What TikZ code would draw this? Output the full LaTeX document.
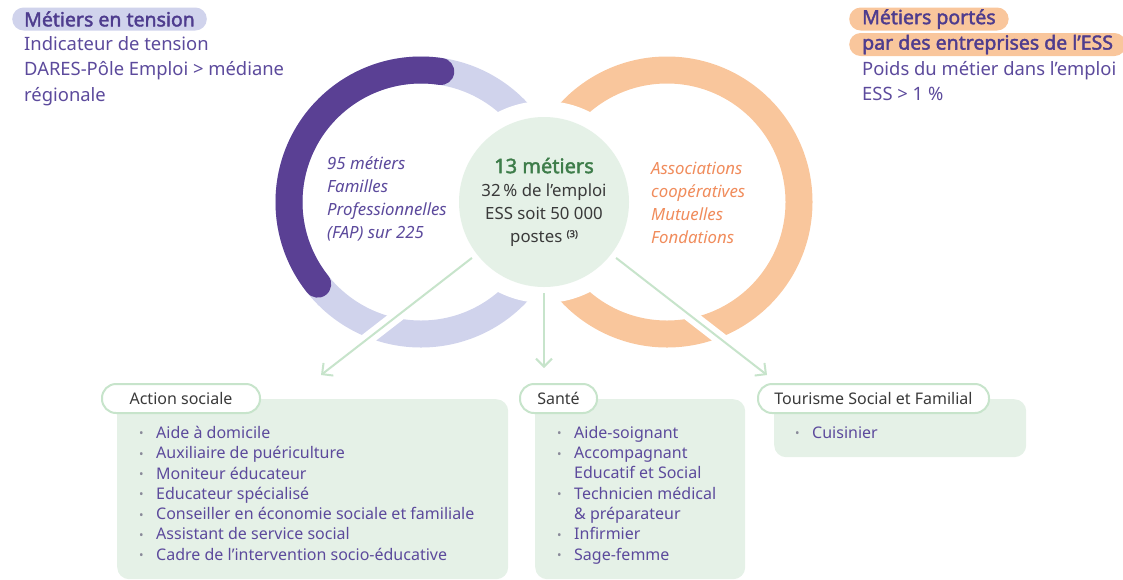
\documentclass[tikz,border=0pt]{standalone}
\usepackage{fontspec}
\setmainfont{Noto Sans}[AutoFakeBold=2]
\usetikzlibrary{arrows.meta}

\definecolor{lavring}{HTML}{D0D3EC}
\definecolor{tensionpurple}{HTML}{5A4094}
\definecolor{titlepurple}{HTML}{4E3C8E}
\definecolor{txtpurple}{HTML}{5C4A9C}
\definecolor{essorange}{HTML}{F9C69C}
\definecolor{orangetxt}{HTML}{F08C5C}
\definecolor{essgreen}{HTML}{E5F1E7}
\definecolor{linegreen}{HTML}{C7E4CB}
\definecolor{titlegreen}{HTML}{3E7D4A}
\definecolor{greytxt}{HTML}{3A3A3A}
\definecolor{dotgrey}{HTML}{8A8A9A}

% puce des listes, et ligne de suite sans puce
\newcommand{\itm}[1]{\makebox[17pt][l]{\raisebox{0.5pt}{\textcolor{dotgrey}{\fontsize{12}{12}\selectfont\textbullet}}}#1}
\newcommand{\itmc}[1]{\hspace*{17pt}#1}

\begin{document}
\begin{tikzpicture}[x=1pt,y=-1pt,
    tagpill/.style={draw=linegreen, line width=2pt, fill=white, rounded corners=14pt,
        minimum height=29pt, inner xsep=0pt, text=greytxt, font=\fontsize{16}{18}\selectfont},
    bodybox/.style={fill=essgreen, rounded corners=12pt, inner sep=0pt, anchor=north west},
    listtext/.style={anchor=north west, align=left, inner sep=0pt, text=txtpurple,
        font=\fontsize{16}{20.3}\selectfont},
    headpill/.style={anchor=west, rounded corners=11.5pt, minimum height=23pt, inner xsep=13pt,
        inner ysep=0pt, text=titlepurple, font=\bfseries\fontsize{19.5}{20}\selectfont},
    headtext/.style={anchor=north west, align=left, inner sep=0pt, text=txtpurple,
        font=\fontsize{18.4}{25.5}\selectfont},
    ringtext/.style={anchor=west, align=left, inner sep=0pt, font=\itshape\fontsize{16.8}{23}\selectfont},
    arr/.style={linegreen, line width=2pt, -{Straight Barb[length=8pt,width=16pt]}, shorten <=6pt,
        preaction={draw=white, line width=13pt, -}}]

    \useasboundingbox (0,0) rectangle (1123,579);

    % les deux anneaux
    \draw[lavring, line width=27pt] (421,202) circle (132);
    \draw[tensionpurple, line width=27pt, line cap=round] (421,202) ++(141.5:132)
        arc[start angle=141.5, end angle=278.6, radius=132];
    \draw[essorange, line width=27pt] (667,202) circle (132);

    % cercle central
    \fill[white] (544,202) circle (101);
    \node[circle, fill=essgreen, minimum size=170pt, inner sep=0pt, align=center, text=greytxt,
        font=\fontsize{16.8}{23}\selectfont] (ess) at (544,202)
        {{\color{titlegreen}\bfseries\fontsize{20}{23}\selectfont 13 métiers}\\
         32\,\% de l’emploi\\ ESS soit 50~000\\
         postes \raisebox{5pt}{\bfseries\fontsize{9.5}{9.5}\selectfont(3)}};

    \node[ringtext, text=txtpurple] (fap) at (327,199)
        {95 métiers\\ Familles\\ Professionnelles\\ (FAP) sur 225};
    \node[ringtext, text=orangetxt] (struct) at (651,203)
        {Associations\\ coopératives\\ Mutuelles\\ Fondations};

    % en-têtes
    \node[headpill, fill=lavring, inner xsep=12pt] (tension) at (12,19) {Métiers en tension};
    \node[headtext] (tensiontxt) at (24,36)
        {Indicateur de tension\\ DARES-Pôle Emploi > médiane\\ régionale};
    \node[headpill, fill=essorange] (portes) at (849,19) {Métiers portés};
    \node[headpill, fill=essorange] (portes2) at (849,44.5) {par des entreprises de l’ESS};
    \node[headtext] (poidstxt) at (862,61) {Poids du métier dans l’emploi\\ ESS > 1 \%};

    % les trois familles
    \node[bodybox, minimum width=391pt, minimum height=180pt] (asbody) at (117,399) {};
    \node[bodybox, minimum width=210pt, minimum height=180pt] (santebody) at (535,399) {};
    \node[bodybox, minimum width=252pt, minimum height=58pt] (tourbody) at (774,399) {};

    \node[tagpill, minimum width=158pt] (as) at (181,398.5) {Action sociale};
    \node[tagpill, minimum width=77pt] (sante) at (558.5,398.5) {Santé};
    \node[tagpill, minimum width=231pt] (tour) at (873.5,398.5) {Tourisme Social et Familial};

    \node[listtext] (aslist) at (139,426)
        {\itm{Aide à domicile}\\ \itm{Auxiliaire de puériculture}\\ \itm{Moniteur éducateur}\\
         \itm{Educateur spécialisé}\\ \itm{Conseiller en économie sociale et familiale}\\
         \itm{Assistant de service social}\\ \itm{Cadre de l’intervention socio-éducative}};
    \node[listtext] (santelist) at (557,426)
        {\itm{Aide-soignant}\\ \itm{Accompagnant}\\ \itmc{Educatif et Social}\\
         \itm{Technicien médical}\\ \itmc{\& préparateur}\\ \itm{Infirmier}\\ \itm{Sage-femme}};
    \node[listtext] (tourlist) at (795,426) {\itm{Cuisinier}};

    % flèches
    \coordinate (asTip) at (321,375);
    \coordinate (santeTip) at (544,368);
    \coordinate (tourTip) at (767,375);
    \draw[arr] (ess) -- (asTip);
    \draw[arr] (ess) -- (santeTip);
    \draw[arr] (ess) -- (tourTip);

\end{tikzpicture}
\end{document}
